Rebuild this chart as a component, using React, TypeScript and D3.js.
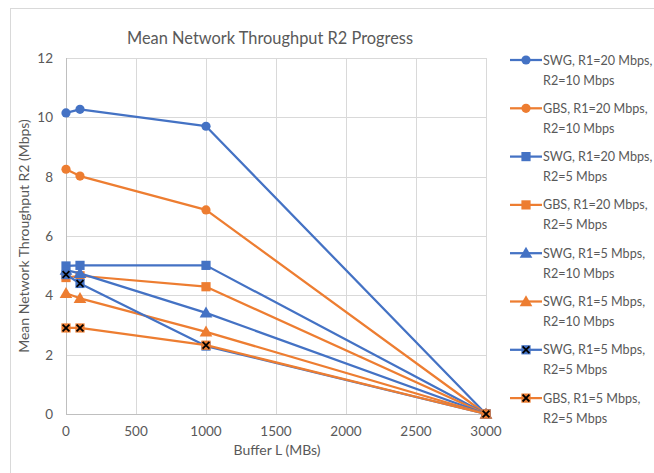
import React from "react";
import * as d3 from "d3";

// Buffer sizes (MB) on the x axis
const bufferSizes = [0, 100, 1000, 3000];

const seriesNames = [
  ["SWG, R1=20 Mbps,", "R2=10 Mbps"],
  ["GBS, R1=20 Mbps,", "R2=10 Mbps"],
  ["SWG, R1=20 Mbps,", "R2=5 Mbps"],
  ["GBS, R1=20 Mbps,", "R2=5 Mbps"],
  ["SWG, R1=5 Mbps,", "R2=10 Mbps"],
  ["SWG, R1=5 Mbps,", "R2=10 Mbps"],
  ["SWG, R1=5 Mbps,", "R2=5 Mbps"],
  ["GBS, R1=5 Mbps,", "R2=5 Mbps"],
];

// Mean throughput R2 (Mbps), one array per series
const swg20_10 = [10.15, 10.27, 9.7, 0];
const gbs20_10 = [8.25, 8.02, 6.88, 0];
const swg20_5 = [4.99, 5.01, 5.01, 0];
const gbs20_5 = [4.6, 4.66, 4.29, 0];
const swg5_10 = [4.85, 4.74, 3.41, 0];
const swg5_10b = [4.07, 3.9, 2.77, 0];
const swg5_5 = [4.7, 4.4, 2.29, 0];
const gbs5_5 = [2.9, 2.9, 2.32, 0];

const seriesValues = [swg20_10, gbs20_10, swg20_5, gbs20_5, swg5_10, swg5_10b, swg5_5, gbs5_5];
const seriesColors = ["#4472C4", "#ED7D31", "#4472C4", "#ED7D31", "#4472C4", "#ED7D31", "#4472C4", "#ED7D31"];
const seriesMarkers = ["circle", "circle", "square", "square", "triangle", "triangle", "x", "x"];

const xTicks = [0, 500, 1000, 1500, 2000, 2500, 3000];
const yTicks = [0, 2, 4, 6, 8, 10, 12];

const FONT = "Lato, 'Open Sans', sans-serif";
const TEXT = "#595959";

function Marker({ kind, x, y, color }: { kind: string; x: number; y: number; color: string }) {
  if (kind === "circle") return <circle cx={x} cy={y} r={4.6} fill={color} />;
  if (kind === "square") return <rect x={x - 4.6} y={y - 4.6} width={9.2} height={9.2} fill={color} />;
  if (kind === "triangle") {
    const p = d3.symbol(d3.symbolTriangle, 70)();
    return <path d={p || ""} transform={`translate(${x},${y + 1})`} fill={color} />;
  }
  const s = 3.4;
  return (
    <g>
      <rect x={x - 4.6} y={y - 4.6} width={9.2} height={9.2} fill={color} />
      <path
        d={`M${x - s},${y - s}L${x + s},${y + s}M${x - s},${y + s}L${x + s},${y - s}`}
        stroke="#000"
        strokeWidth={1.8}
      />
    </g>
  );
}

export default function App() {
  const width = 654;
  const height = 473;
  const x = d3.scaleLinear().domain([0, 3000]).range([66, 486]);
  const y = d3.scaleLinear().domain([0, 12]).range([414, 58]);
  const line = d3
    .line<number>()
    .x((_, i) => x(bufferSizes[i]))
    .y((d) => y(d));

  return (
    <div style={{ position: "fixed", left: 0, top: 0 }}>
      <svg width={width} height={height} style={{ display: "block", background: "#fff" }}>
        <rect x={10.5} y={8.5} width={700} height={500} fill="#fff" stroke="#D9D9D9" />
        <text
          x={270}
          y={44}
          textAnchor="middle"
          fontFamily={FONT}
          fontSize={18}
          fill={TEXT}
          textLength={286}
          lengthAdjust="spacingAndGlyphs"
        >
          Mean Network Throughput R2 Progress
        </text>

        {yTicks.map((t) => (
          <g key={"y" + t}>
            <line x1={x(0)} x2={x(3000)} y1={Math.round(y(t)) + 0.5} y2={Math.round(y(t)) + 0.5} stroke="#D9D9D9" />
            <text x={53} y={y(t) + 5} textAnchor="end" fontFamily={FONT} fontSize={13.5} fill={TEXT}>
              {t}
            </text>
          </g>
        ))}
        {xTicks.map((t) => (
          <g key={"x" + t}>
            <line x1={Math.round(x(t)) + 0.5} x2={Math.round(x(t)) + 0.5} y1={y(12)} y2={y(0)} stroke="#D9D9D9" />
            <text x={x(t)} y={436} textAnchor="middle" fontFamily={FONT} fontSize={13.5} fill={TEXT}>
              {t}
            </text>
          </g>
        ))}
        <line x1={x(0)} x2={x(3000)} y1={Math.round(y(0)) + 0.5} y2={Math.round(y(0)) + 0.5} stroke="#BFBFBF" />
        <line x1={Math.round(x(0)) + 0.5} x2={Math.round(x(0)) + 0.5} y1={y(12)} y2={y(0)} stroke="#BFBFBF" />

        <text x={277} y={455} textAnchor="middle" fontFamily={FONT} fontSize={14} fill={TEXT}>
          Buffer L (MBs)
        </text>
        <text
          transform={`translate(29,${236}) rotate(-90)`}
          textAnchor="middle"
          fontFamily={FONT}
          fontSize={14}
          fill={TEXT}
        >
          Mean Network Throughput R2 (Mbps)
        </text>

        {seriesValues.map((vals, si) => (
          <g key={"s" + si}>
            <path d={line(vals) || ""} fill="none" stroke={seriesColors[si]} strokeWidth={2.25} strokeLinejoin="round" />
            {vals.map((v, i) => (
              <Marker key={i} kind={seriesMarkers[si]} x={x(bufferSizes[i])} y={y(v)} color={seriesColors[si]} />
            ))}
          </g>
        ))}

        {seriesNames.map((nm, si) => {
          const ly = 60 + si * 48.3;
          return (
            <g key={"l" + si}>
              <line x1={510} x2={542} y1={ly} y2={ly} stroke={seriesColors[si]} strokeWidth={2.25} />
              <Marker kind={seriesMarkers[si]} x={526} y={ly} color={seriesColors[si]} />
              <text x={543} y={ly + 4.5} fontFamily={FONT} fontSize={12.6} fill={TEXT}>
                {nm[0]}
              </text>
              <text x={543} y={ly + 24.5} fontFamily={FONT} fontSize={12.6} fill={TEXT}>
                {nm[1]}
              </text>
            </g>
          );
        })}
      </svg>
    </div>
  );
}
